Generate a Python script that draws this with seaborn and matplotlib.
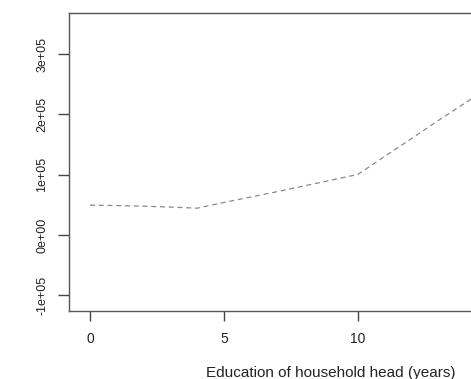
import numpy as np
import pandas as pd
import matplotlib
matplotlib.use("Agg")
import matplotlib.pyplot as plt
import seaborn as sns

educ_years = [0, 1, 2, 3, 4, 5, 6, 7, 8, 9, 10, 11, 12, 13, 14, 15]
fitted_value = [49500, 48800, 47800, 46300, 44500, 54000, 63000, 72000, 81500,
                91000, 100500, 130500, 160000, 190000, 219000, 248000]

df = pd.DataFrame({"educ": educ_years, "fit": fitted_value})

sns.set_style("ticks")
plt.rcParams["font.family"] = ["Liberation Sans", "DejaVu Sans"]

W, H = 471, 379
fig = plt.figure(figsize=(W / 100, H / 100), dpi=100)
# plot region continues past the right edge of the picture (cropped original)
left, right, top, bottom = 69, 593, 13, 311
ax = fig.add_axes([left / W, 1 - bottom / H, (right - left) / W, (bottom - top) / H])

sns.lineplot(data=df, x="educ", y="fit", ax=ax, color="#8a8a8a",
             linewidth=0.9, linestyle=(0, (4, 3)))

px_per_unit = 26.8
ax.set_xlim((left - 90) / px_per_unit, (right - 90) / px_per_unit)
px_per_1e5 = 60.3
ax.set_ylim((235 - bottom) / px_per_1e5 * 1e5, (235 - top) / px_per_1e5 * 1e5)

ax.set_xticks([0, 5, 10])
ax.set_yticks([-1e5, 0, 1e5, 2e5, 3e5])
ax.set_yticklabels(["-1e+05", "0e+00", "1e+05", "2e+05", "3e+05"],
                   rotation=90, va="center", fontsize=9)

for s in ax.spines.values():
    s.set_color("#555555")
    s.set_linewidth(1.0)

ax.tick_params(axis="both", direction="out", width=1.0,
               color="#444444", labelcolor="#222222")
ax.tick_params(axis="x", length=7, pad=8, labelsize=10)
ax.tick_params(axis="y", length=8, pad=7)

ax.set_xlabel("Education of household head (years)", fontsize=11,
              color="#222222", labelpad=14.5)
ax.set_ylabel("")

fig.savefig("out.png", dpi=100)
